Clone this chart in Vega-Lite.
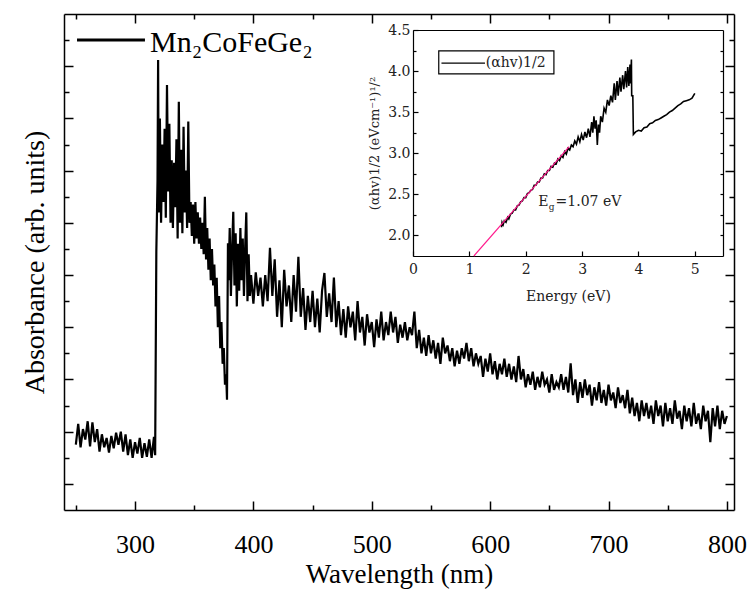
{
"$schema":"https://vega.github.io/schema/vega-lite/v6.json",
"width":670,"height":496,
"autosize":{"type":"none"},
"padding":{"left":64,"top":14,"right":19,"bottom":80},
"background":"white",
"config":{"view":{"stroke":null},"axis":{"domainColor":"black","tickColor":"black","labelColor":"black","titleColor":"black","grid":false,"labelFlush":false,"labelOverlap":false,"domainWidth":1.5,"tickWidth":1.5,"titleFontWeight":"normal","labelFont":"Liberation Serif","titleFont":"Liberation Serif"}},
"datasets":{
"main":[{"w":250,"a":0.75},{"w":252,"a":1.15},{"w":254,"a":0.7},{"w":256,"a":1.05},{"w":258,"a":0.85},{"w":260,"a":1.2},{"w":262,"a":0.72},{"w":264,"a":1.18},{"w":266,"a":0.8},{"w":268,"a":1.05},{"w":270,"a":0.62},{"w":272,"a":0.95},{"w":274,"a":0.7},{"w":276,"a":0.88},{"w":278,"a":0.6},{"w":280,"a":0.92},{"w":282,"a":0.68},{"w":284,"a":0.98},{"w":286,"a":0.75},{"w":288,"a":1.0},{"w":290,"a":0.62},{"w":292,"a":0.95},{"w":294,"a":0.55},{"w":296,"a":0.85},{"w":298,"a":0.5},{"w":300,"a":0.8},{"w":302,"a":0.58},{"w":304,"a":0.88},{"w":306,"a":0.5},{"w":308,"a":0.78},{"w":310,"a":0.52},{"w":312,"a":0.85},{"w":314,"a":0.5},{"w":316,"a":0.9},
{"w":317,"a":0.55},{"w":318,"a":4.45},{"w":319,"a":5.8},{"w":319.5,"a":8.12},{"w":320,"a":5.2},{"w":321,"a":7.0},{"w":322,"a":5.0},{"w":323,"a":6.5},{"w":324,"a":5.4},{"w":325,"a":6.8},{"w":326,"a":5.1},{"w":327,"a":7.64},{"w":328,"a":5.6},{"w":329,"a":6.9},{"w":330,"a":5.0},{"w":331,"a":6.2},{"w":332,"a":4.9},{"w":333,"a":6.15},{"w":334,"a":5.3},{"w":335,"a":6.6},{"w":336,"a":4.7},{"w":337,"a":7.32},{"w":338,"a":5.0},{"w":339,"a":6.4},{"w":340,"a":4.8},{"w":341,"a":6.84},{"w":342,"a":5.2},{"w":343,"a":6.0},{"w":344,"a":4.9},{"w":345,"a":6.94},{"w":346,"a":5.0},{"w":347,"a":5.4},{"w":348,"a":4.75},{"w":349,"a":5.35},{"w":350,"a":4.6},{"w":351,"a":5.4},{"w":352,"a":4.7},{"w":353,"a":5.2},{"w":354,"a":4.6},{"w":355,"a":5.1},{"w":356,"a":4.5},{"w":357,"a":5.0},{"w":358,"a":4.4},{"w":359,"a":5.5},{"w":360,"a":4.3},{"w":361,"a":4.9},{"w":362,"a":4.1},{"w":363,"a":4.7},{"w":364,"a":3.9},{"w":365,"a":4.5},{"w":366,"a":3.8},{"w":367,"a":4.2},{"w":368,"a":3.4},{"w":369,"a":3.95},{"w":370,"a":3.0},{"w":371,"a":3.6},{"w":372,"a":2.6},{"w":373,"a":3.1},{"w":374,"a":2.3},{"w":375,"a":2.6},{"w":376,"a":1.9},{"w":377,"a":2.1},{"w":377.7,"a":1.61},{"w":378.5,"a":4.61},{"w":379,"a":3.9},{"w":380,"a":4.9},{"w":381,"a":3.6},{"w":382,"a":4.5},{"w":383,"a":5.21},{"w":384,"a":3.8},{"w":385,"a":4.8},{"w":386,"a":3.4},{"w":387,"a":4.6},{"w":388,"a":3.7},{"w":389,"a":4.9},{"w":390,"a":3.9},{"w":391,"a":4.7},{"w":392,"a":3.6},{"w":393,"a":4.5},{"w":394,"a":5.2},{"w":395,"a":3.5},{"w":396,"a":4.4},{"w":397,"a":3.6},{"w":398,"a":4.0},
{"w":400,"a":3.45},{"w":402,"a":4.05},{"w":404,"a":3.6},{"w":406,"a":3.95},{"w":408,"a":3.4},{"w":410,"a":4.0},{"w":412,"a":3.5},{"w":414,"a":4.52},{"w":416,"a":3.6},{"w":418,"a":4.3},{"w":420,"a":3.2},{"w":422,"a":3.9},{"w":424,"a":3.0},{"w":426,"a":4.1},{"w":428,"a":3.4},{"w":430,"a":3.8},{"w":432,"a":3.1},{"w":434,"a":4.0},{"w":436,"a":3.3},{"w":438,"a":4.35},{"w":440,"a":3.2},{"w":442,"a":3.75},{"w":444,"a":2.95},{"w":446,"a":3.6},{"w":448,"a":3.1},{"w":450,"a":3.7},{"w":452,"a":3.0},{"w":454,"a":3.55},{"w":456,"a":2.9},{"w":458,"a":3.7},{"w":460,"a":4.04},{"w":462,"a":3.2},{"w":464,"a":3.65},{"w":466,"a":3.1},{"w":468,"a":3.95},{"w":470,"a":3.0},{"w":472,"a":3.5},{"w":474,"a":2.85},{"w":476,"a":3.35},{"w":478,"a":2.8},{"w":480,"a":3.4},{"w":482,"a":3.0},{"w":484,"a":3.3},{"w":486,"a":2.75},{"w":488,"a":3.5},{"w":490,"a":2.9},{"w":492,"a":3.2},{"w":494,"a":2.65},{"w":496,"a":3.25},{"w":498,"a":2.9},{"w":500,"a":3.1},{"w":502,"a":2.62},{"w":504,"a":3.15},{"w":506,"a":2.8},{"w":508,"a":3.3},{"w":510,"a":2.75},{"w":512,"a":3.1},{"w":514,"a":2.85},{"w":516,"a":3.3},{"w":518,"a":2.9},{"w":520,"a":3.2},{"w":522,"a":2.7},{"w":524,"a":3.05},{"w":526,"a":2.8},{"w":528,"a":3.1},{"w":530,"a":2.75},{"w":532,"a":3.0},{"w":534,"a":2.85},{"w":536,"a":3.3},{"w":538,"a":2.6},{"w":540,"a":2.95},{"w":542,"a":2.5},{"w":544,"a":2.8},{"w":546,"a":2.45},{"w":548,"a":2.85},{"w":550,"a":2.5},{"w":552,"a":2.75},{"w":554,"a":2.4},{"w":556,"a":2.7},{"w":558,"a":2.3},{"w":560,"a":2.8},{"w":562,"a":2.5},{"w":564,"a":2.65},{"w":566,"a":2.35},{"w":568,"a":2.6},{"w":570,"a":2.25},{"w":572,"a":2.55},{"w":574,"a":2.3},{"w":576,"a":2.6},{"w":578,"a":2.4},{"w":580,"a":2.7},{"w":582,"a":2.35},{"w":584,"a":2.6},{"w":586,"a":2.25},{"w":588,"a":2.5},{"w":590,"a":2.3},{"w":592,"a":2.45},{"w":594,"a":2.05},{"w":596,"a":2.4},{"w":598,"a":2.15},{"w":600,"a":2.5},{"w":602,"a":2.1},{"w":604,"a":2.35},{"w":606,"a":2.0},{"w":608,"a":2.3},{"w":610,"a":2.1},{"w":612,"a":2.4},{"w":614,"a":2.05},{"w":616,"a":2.3},{"w":618,"a":2.0},{"w":620,"a":2.25},{"w":622,"a":1.95},{"w":624,"a":2.45},{"w":626,"a":2.0},{"w":628,"a":2.2},{"w":630,"a":1.85},{"w":632,"a":2.1},{"w":634,"a":1.9},{"w":636,"a":2.15},{"w":638,"a":1.8},{"w":640,"a":2.05},{"w":642,"a":1.85},{"w":644,"a":2.15},{"w":646,"a":1.9},{"w":648,"a":2.0},{"w":650,"a":1.75},{"w":652,"a":2.1},{"w":654,"a":1.8},{"w":656,"a":1.95},{"w":658,"a":1.85},{"w":660,"a":2.1},{"w":662,"a":1.8},{"w":664,"a":2.05},{"w":666,"a":1.75},{"w":668,"a":2.31},{"w":670,"a":1.7},{"w":672,"a":2.0},{"w":674,"a":1.55},{"w":676,"a":1.95},{"w":678,"a":1.65},{"w":680,"a":2.0},{"w":682,"a":1.7},{"w":684,"a":1.9},{"w":686,"a":1.5},{"w":688,"a":1.85},{"w":690,"a":1.6},{"w":692,"a":1.95},{"w":694,"a":1.55},{"w":696,"a":1.8},{"w":698,"a":1.5},{"w":700,"a":1.9},{"w":702,"a":1.6},{"w":704,"a":1.75},{"w":706,"a":1.45},{"w":708,"a":1.85},{"w":710,"a":1.55},{"w":712,"a":1.7},{"w":714,"a":1.45},{"w":716,"a":1.8},{"w":718,"a":1.35},{"w":720,"a":1.65},{"w":722,"a":1.3},{"w":724,"a":1.55},{"w":726,"a":1.2},{"w":728,"a":1.6},{"w":730,"a":1.3},{"w":732,"a":1.55},{"w":734,"a":1.25},{"w":736,"a":1.5},{"w":738,"a":1.15},{"w":740,"a":1.6},{"w":742,"a":1.3},{"w":744,"a":1.5},{"w":746,"a":1.1},{"w":748,"a":1.55},{"w":750,"a":1.2},{"w":752,"a":1.45},{"w":754,"a":1.15},{"w":756,"a":1.6},{"w":758,"a":1.25},{"w":760,"a":1.4},{"w":762,"a":1.05},{"w":764,"a":1.5},{"w":766,"a":1.2},{"w":768,"a":1.45},{"w":770,"a":1.1},{"w":772,"a":1.55},{"w":774,"a":1.15},{"w":776,"a":1.35},{"w":778,"a":1.05},{"w":780,"a":1.5},{"w":782,"a":1.2},{"w":784,"a":1.4},{"w":786,"a":0.8},{"w":788,"a":1.45},{"w":790,"a":1.1},{"w":792,"a":1.5},{"w":794,"a":1.05},{"w":796,"a":1.4},{"w":798,"a":1.15},{"w":800,"a":1.3}],
"inset":[{"E":1.57,"v":2.1},{"E":1.58,"v":2.16},{"E":1.6,"v":2.13},{"E":1.62,"v":2.18},{"E":1.65,"v":2.16},{"E":1.68,"v":2.22},{"E":1.7,"v":2.2},{"E":1.73,"v":2.26},{"E":1.76,"v":2.27},{"E":1.79,"v":2.31},{"E":1.82,"v":2.31},{"E":1.85,"v":2.36},{"E":1.88,"v":2.37},{"E":1.91,"v":2.41},{"E":1.94,"v":2.42},{"E":1.97,"v":2.46},{"E":2.0,"v":2.46},{"E":2.03,"v":2.51},{"E":2.06,"v":2.52},{"E":2.09,"v":2.55},{"E":2.12,"v":2.56},{"E":2.15,"v":2.61},{"E":2.18,"v":2.61},{"E":2.21,"v":2.65},{"E":2.24,"v":2.65},{"E":2.27,"v":2.7},{"E":2.3,"v":2.7},{"E":2.33,"v":2.75},{"E":2.36,"v":2.74},{"E":2.39,"v":2.79},{"E":2.42,"v":2.79},{"E":2.45,"v":2.84},{"E":2.48,"v":2.83},{"E":2.51,"v":2.88},{"E":2.54,"v":2.87},{"E":2.57,"v":2.93},{"E":2.6,"v":2.91},{"E":2.63,"v":2.97},{"E":2.66,"v":2.95},{"E":2.69,"v":3.02},{"E":2.72,"v":2.99},{"E":2.75,"v":3.06},{"E":2.78,"v":3.04},{"E":2.81,"v":3.1},{"E":2.84,"v":3.08},{"E":2.87,"v":3.15},{"E":2.9,"v":3.11},{"E":2.93,"v":3.2},{"E":2.96,"v":3.14},{"E":2.99,"v":3.23},{"E":3.02,"v":3.16},{"E":3.05,"v":3.26},{"E":3.08,"v":3.19},{"E":3.11,"v":3.3},{"E":3.14,"v":3.2},{"E":3.17,"v":3.38},{"E":3.19,"v":3.25},{"E":3.21,"v":3.45},{"E":3.23,"v":3.3},{"E":3.25,"v":3.4},{"E":3.27,"v":3.1},{"E":3.29,"v":3.35},{"E":3.31,"v":3.25},{"E":3.33,"v":3.45},{"E":3.36,"v":3.38},{"E":3.39,"v":3.55},{"E":3.42,"v":3.5},{"E":3.45,"v":3.65},{"E":3.48,"v":3.58},{"E":3.51,"v":3.7},{"E":3.54,"v":3.62},{"E":3.57,"v":3.85},{"E":3.59,"v":3.65},{"E":3.62,"v":3.88},{"E":3.64,"v":3.7},{"E":3.67,"v":3.92},{"E":3.69,"v":3.75},{"E":3.72,"v":3.95},{"E":3.74,"v":3.78},{"E":3.77,"v":4.0},{"E":3.79,"v":3.8},{"E":3.81,"v":4.05},{"E":3.83,"v":3.82},{"E":3.85,"v":4.08},{"E":3.86,"v":3.85},{"E":3.875,"v":4.14},{"E":3.88,"v":3.7},{"E":3.9,"v":3.7},{"E":3.91,"v":3.23},{"E":3.95,"v":3.26},{"E":4.0,"v":3.28},{"E":4.05,"v":3.27},{"E":4.1,"v":3.31},{"E":4.15,"v":3.32},{"E":4.2,"v":3.36},{"E":4.25,"v":3.37},{"E":4.3,"v":3.4},{"E":4.35,"v":3.41},{"E":4.4,"v":3.43},{"E":4.45,"v":3.45},{"E":4.5,"v":3.47},{"E":4.55,"v":3.5},{"E":4.6,"v":3.52},{"E":4.65,"v":3.55},{"E":4.7,"v":3.58},{"E":4.75,"v":3.6},{"E":4.8,"v":3.63},{"E":4.85,"v":3.64},{"E":4.9,"v":3.65},{"E":4.95,"v":3.67},{"E":5.0,"v":3.73}],
"fit":[{"E":1.08,"v":1.75},{"E":2.77,"v":3.08}]
},
"layer":[
{"data":{"name":"main"},"mark":{"type":"line","color":"black","strokeWidth":2.2},
"encoding":{
"x":{"field":"w","type":"quantitative","scale":{"domain":[240,806],"nice":false,"zero":false},
"axis":{"orient":"bottom","values":[250,300,350,400,450,500,550,600,650,700,750,800],"tickSize":{"condition":{"test":"datum.value % 100 === 0","value":-9},"value":-5},"labelExpr":"datum.value % 100 === 0 ? datum.label : ''","labelFont":"Liberation Serif","labelFontSize":26,"labelPadding":30,"title":"Wavelength (nm)","titleFont":"Liberation Serif","titleFontSize":27,"titlePadding":0}},
"y":{"field":"a","type":"quantitative","scale":{"domain":[-0.5,9],"nice":false,"zero":false},
"axis":{"orient":"left","values":[0,0.5,1,1.5,2,2.5,3,3.5,4,4.5,5,5.5,6,6.5,7,7.5,8,8.5],"tickSize":{"condition":{"test":"datum.value % 1 === 0","value":-9},"value":-5},"labels":false,"title":"Absorbance (arb. units)","titleFont":"Liberation Serif","titleFontSize":28,"titlePadding":14}}}},
{"data":{"values":[{"x1":251,"x2":308.4,"y":8.5}]},"mark":{"type":"rule","color":"black","strokeWidth":3},
"encoding":{
"x":{"field":"x1","type":"quantitative","scale":{"domain":[240,806],"nice":false,"zero":false},
"axis":{"orient":"top","values":[250,300,350,400,450,500,550,600,650,700,750,800],"tickSize":{"condition":{"test":"datum.value % 100 === 0","value":-9},"value":-5},"labels":false,"title":null}},
"x2":{"field":"x2"},
"y":{"field":"y","type":"quantitative","scale":{"domain":[-0.5,9],"nice":false,"zero":false},
"axis":{"orient":"right","values":[0,0.5,1,1.5,2,2.5,3,3.5,4,4.5,5,5.5,6,6.5,7,7.5,8,8.5],"tickSize":{"condition":{"test":"datum.value % 1 === 0","value":-9},"value":-5},"labels":false,"title":null}}}},
{"data":{"values":[{"x":312.7,"y":8.45,"t":"Mn₂CoFeGe₂"}]},"mark":{"type":"text","align":"left","baseline":"middle","font":"Liberation Serif","fontSize":30,"color":"black"},
"encoding":{
"x":{"field":"x","type":"quantitative","scale":{"domain":[240,806],"nice":false,"zero":false},"axis":null},
"y":{"field":"y","type":"quantitative","scale":{"domain":[-0.5,9],"nice":false,"zero":false},"axis":null},
"text":{"field":"t"}}},
{"data":{"name":"inset"},"mark":{"type":"line","color":"black","strokeWidth":1.6},
"encoding":{
"x":{"field":"E","type":"quantitative","scale":{"domain":[0,5.5],"range":[349,659],"nice":false,"zero":false},
"axis":{"orient":"bottom","offset":-254,"values":[0,0.5,1,1.5,2,2.5,3,3.5,4,4.5,5,5.5],"format":"d","tickSize":{"condition":{"test":"datum.value % 1 === 0","value":-5},"value":-3},"labelExpr":"datum.value % 1 === 0 ? datum.label : ''","labelFont":"DejaVu Serif","labelFontSize":14,"labelColor":"#222","labelPadding":11,"title":"Energy (eV)","titleFont":"DejaVu Serif","titleFontSize":14,"titleColor":"#222","titlePadding":13,"domainWidth":1.2,"tickWidth":1.2}},
"y":{"field":"v","type":"quantitative","scale":{"domain":[1.75,4.5],"range":[242,16],"nice":false,"zero":false},
"axis":{"orient":"left","offset":-349,"values":[2,2.25,2.5,2.75,3,3.25,3.5,3.75,4,4.25,4.5],"format":".1f","tickSize":{"condition":{"test":"abs(datum.value*2 - round(datum.value*2)) < 0.01","value":-5},"value":-3},"labelExpr":"abs(datum.value*2 - round(datum.value*2)) < 0.01 ? datum.label : ''","labelFont":"DejaVu Serif","labelFontSize":14,"labelColor":"#222","labelPadding":8,"title":"(αhv)1/2 (eVcm⁻¹)¹/²","titleFont":"DejaVu Serif","titleFontSize":13,"titleColor":"#222","titlePadding":6,"domainWidth":1.2,"tickWidth":1.2}}}},
{"data":{"name":"fit"},"mark":{"type":"line","color":"#ff1a8c","strokeWidth":1.2},
"encoding":{
"x":{"field":"E","type":"quantitative","scale":{"domain":[0,5.5],"range":[349,659],"nice":false,"zero":false},
"axis":{"orient":"top","offset":-16,"ticks":false,"labels":false,"title":null,"domainWidth":1.2}},
"y":{"field":"v","type":"quantitative","scale":{"domain":[1.75,4.5],"range":[242,16],"nice":false,"zero":false},
"axis":{"orient":"right","offset":-11,"values":[2,2.25,2.5,2.75,3,3.25,3.5,3.75,4,4.25],"tickSize":-3,"tickWidth":1.2,"labels":false,"title":null,"domainWidth":1.2}}}},
{"data":{"values":[{"x1":0.457,"x2":2.5,"y1":4.245,"y2":3.966}]},"mark":{"type":"rect","fill":"white","stroke":"black","strokeWidth":1.2},
"encoding":{
"x":{"field":"x1","type":"quantitative","scale":{"domain":[0,5.5],"range":[349,659],"nice":false,"zero":false},"axis":null},
"x2":{"field":"x2"},
"y":{"field":"y1","type":"quantitative","scale":{"domain":[1.75,4.5],"range":[242,16],"nice":false,"zero":false},"axis":null},
"y2":{"field":"y2"}}},
{"data":{"values":[{"x1":0.505,"x2":1.277,"y":4.096}]},"mark":{"type":"rule","color":"black","strokeWidth":1.2},
"encoding":{
"x":{"field":"x1","type":"quantitative","scale":{"domain":[0,5.5],"range":[349,659],"nice":false,"zero":false},"axis":null},
"x2":{"field":"x2"},
"y":{"field":"y","type":"quantitative","scale":{"domain":[1.75,4.5],"range":[242,16],"nice":false,"zero":false},"axis":null}}},
{"data":{"values":[{"x":1.29,"y":4.096,"t":"(αhv)1/2"},{"x":2.22,"y":2.41,"t":"E"},{"x":2.53,"y":2.41,"t":"=1.07 eV"}]},"mark":{"type":"text","align":"left","baseline":"middle","font":"DejaVu Serif","fontSize":14,"color":"#222"},
"encoding":{
"x":{"field":"x","type":"quantitative","scale":{"domain":[0,5.5],"range":[349,659],"nice":false,"zero":false},"axis":null},
"y":{"field":"y","type":"quantitative","scale":{"domain":[1.75,4.5],"range":[242,16],"nice":false,"zero":false},"axis":null},
"text":{"field":"t"}}},
{"data":{"values":[{"x":2.41,"y":2.35,"t":"g"}]},"mark":{"type":"text","align":"left","baseline":"middle","font":"DejaVu Serif","fontSize":9,"color":"#222"},
"encoding":{
"x":{"field":"x","type":"quantitative","scale":{"domain":[0,5.5],"range":[349,659],"nice":false,"zero":false},"axis":null},
"y":{"field":"y","type":"quantitative","scale":{"domain":[1.75,4.5],"range":[242,16],"nice":false,"zero":false},"axis":null},
"text":{"field":"t"}}}
],
"resolve":{"scale":{"x":"independent","y":"independent"},"axis":{"x":"independent","y":"independent"}}
}
